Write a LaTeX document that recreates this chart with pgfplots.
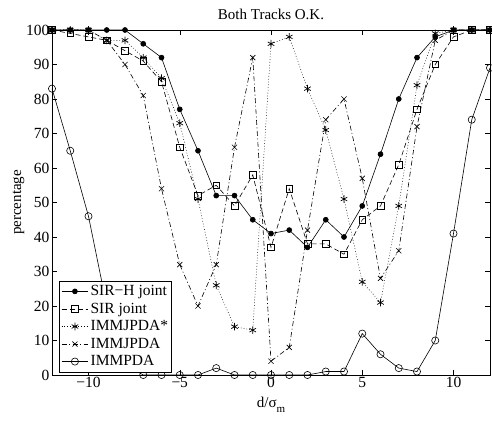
\documentclass[border=0pt]{standalone}
\usepackage{fontspec}
\setmainfont{Liberation Serif}
\usepackage{pgfplots}
\pgfplotsset{compat=1.18}

\pgfplotstableread{
x   sirh  sir  immjs  immj  immpda
-12 100   100  100    100   83
-11 100   99   100    100   65
-10 100   98   100    100   46
-9  100   97   97     97    20
-8  100   94   97     90    3
-7  96    91   92     81    0
-6  92    85   86     54    0
-5  77    66   73     32    0
-4  65    52   51     20    0
-3  52    55   26     32    2
-2  52    49   14     66    0
-1  45    58   13     92    0
0   41    37   96     4     0
1   42    54   98     8     0
2   37    38   83     42    0
3   45    38   71     74    1
4   40    35   51     80    1
5   49    45   27     57    12
6   64    49   21     28    6
7   80    61   49     36    2
8   92    77   84     72    1
9   98    90   99     97    10
10  100   98   100    100   41
11  100   100  100    100   74
12  100   100  100    100   89
}\tracks

\newcommand{\fs}{\fontsize{15}{17}\selectfont}

\begin{document}
\begin{tikzpicture}
\begin{axis}[
  scale only axis,
  width=438pt, height=345pt,
  xmin=-12, xmax=12, ymin=0, ymax=100,
  xtick={-10,-5,0,5,10},
  xticklabels={−10,−5,0,5,10},
  ytick={0,10,...,100},
  /pgf/number format/assume math mode=true,
  tick align=inside,
  tick pos=both,
  major tick length=5pt,
  tick style={black, line width=0.5pt},
  axis line style={line width=0.8pt},
  tick label style={font=\fontsize{15.5}{17}\selectfont},
  yticklabel style={xshift=1pt},
  xticklabel style={yshift=1pt},
  title={Both Tracks O.K.},
  title style={font=\fs, yshift=1pt},
  xlabel={d/σ\raisebox{-5pt}{\fontsize{11}{12}\selectfont m}},
  xlabel style={font=\fs, yshift=-2pt},
  ylabel={percentage},
  ylabel style={font=\fs, yshift=-5pt},
  legend style={font=\fontsize{15.5}{17}\selectfont, at={(0.017,0.008)}, anchor=south west,
    draw=black, line width=0.6pt, fill=white, inner xsep=1.5pt, inner ysep=2.5pt,
    row sep=1.8pt, cells={anchor=west}},
  legend image code/.code={
    \draw[mark repeat=2,mark phase=2] plot coordinates {(0cm,0cm) (0.47cm,0cm) (0.94cm,0cm)};},
  every axis plot/.append style={line width=0.6pt, black},
]
\addplot[solid, mark=*, mark size=2.5pt] table[x=x,y=sirh] {\tracks};
\addlegendentry{SIR−H joint}
\addplot[dash pattern=on 5pt off 3pt, mark=square, mark size=3.3pt, mark options={solid, fill=white}] table[x=x,y=sir] {\tracks};
\addlegendentry{SIR joint}
\addplot[dash pattern=on 0.8pt off 2pt, line width=0.5pt, mark=asterisk, mark size=3.8pt, mark options={solid, line width=0.7pt}] table[x=x,y=immjs] {\tracks};
\addlegendentry{IMMJPDA*}
\addplot[dash pattern=on 5pt off 2.5pt on 1pt off 2.5pt, mark=x, mark size=3.6pt, mark options={solid}] table[x=x,y=immj] {\tracks};
\addlegendentry{IMMJPDA}
\addplot[solid, mark=o, mark size=3.6pt] table[x=x,y=immpda] {\tracks};
\addlegendentry{IMMPDA}
\end{axis}
\pgfresetboundingbox
\path (current axis.south west) ++(-52pt,-47pt) coordinate (bbA);
\path (current axis.north east) ++(2pt,30pt) coordinate (bbB);
\path[use as bounding box] (bbA) rectangle (bbB);
\end{tikzpicture}
\end{document}
